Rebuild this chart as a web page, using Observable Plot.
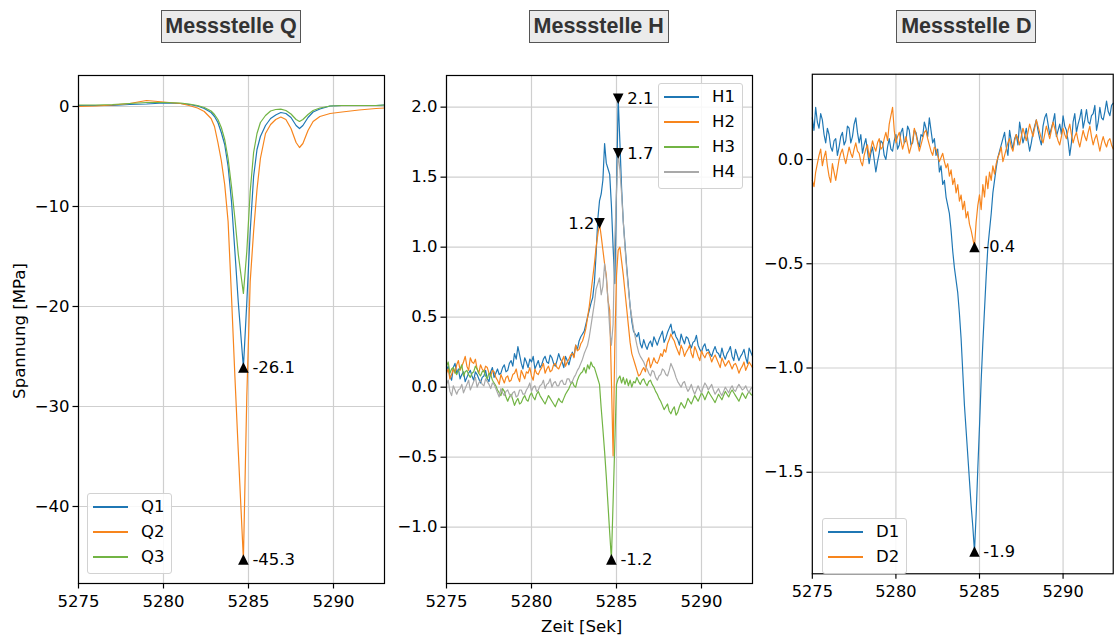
<!DOCTYPE html>
<html><head><meta charset="utf-8">
<script src="https://cdn.jsdelivr.net/npm/d3@7"></script>
<script src="https://cdn.jsdelivr.net/npm/@observablehq/plot@0.6"></script>
<style>
html,body{margin:0;padding:0;background:#fff;overflow:hidden;}
#fig{position:relative;width:1115px;height:635px;overflow:hidden;font-family:"DejaVu Sans";color:#000;}
.panel{position:absolute;top:0;}
.title{position:absolute;top:9.7px;height:33.3px;width:140px;box-sizing:border-box;border:1.2px solid #555;background:#ebebeb;color:#333;font:bold 21.5px "Liberation Sans";display:flex;align-items:center;justify-content:center;transform:translateX(-50%);white-space:nowrap;}
.legend{position:absolute;box-sizing:border-box;border:1.2px solid #d2d2d2;border-radius:3px;background:rgba(255,255,255,0.85);}
.legend .sw{position:absolute;left:5px;width:35px;height:2px;}
.legend .lb{position:absolute;left:53px;height:20px;line-height:20px;font:16.5px "DejaVu Sans";white-space:nowrap;}
.axlabel{position:absolute;font:16.6px "DejaVu Sans";white-space:nowrap;line-height:normal;}
</style>
</head><body><div id="fig"></div>
<script>
// ---------- data ----------
const xTicks = [5275, 5280, 5285, 5290];

// Messstelle Q (smooth signals)
const tQ = [5275,5276,5277,5278,5279,5280,5281,5281.5,5282,5282.4,
  5282.8,5283.0,5283.2,5283.4,5283.6,5283.8,5284.0,5284.2,5284.4,5284.7,
  5284.9,5285.1,5285.3,5285.5,5285.7,5286.0,5286.3,5286.6,5286.9,5287.2,
  5287.5,5287.8,5288.0,5288.2,5288.5,5288.8,5289.2,5289.8,5290.5,5291.5,5292.5,5293];
const Q1 = [0.1,0.1,0.1,0.2,0.25,0.35,0.3,0.2,0.05,-0.2,
  -0.6,-1.0,-1.6,-2.6,-3.8,-6.0,-9.5,-14.5,-19.6,-26.1,
  -19.6,-12.5,-7.0,-4.3,-3.0,-1.9,-1.2,-0.85,-0.6,-0.7,
  -1.1,-1.9,-2.2,-1.9,-1.1,-0.55,-0.25,0.05,0.1,0.1,0.1,0.15];
const Q2 = [0.0,0.05,0.15,0.3,0.6,0.45,0.3,0.1,-0.15,-0.5,
  -1.2,-2.0,-3.6,-5.4,-7.8,-11.5,-19.0,-27.0,-34.5,-45.3,
  -29.0,-17.5,-12.5,-8.3,-5.2,-2.7,-1.8,-1.3,-1.05,-1.3,
  -2.2,-3.6,-4.1,-3.7,-2.4,-1.5,-1.0,-0.7,-0.55,-0.35,-0.2,-0.15];
const Q3 = [0.15,0.15,0.2,0.3,0.4,0.4,0.35,0.25,0.1,-0.1,
  -0.45,-0.8,-1.3,-2.1,-3.3,-5.2,-8.0,-11.2,-14.8,-18.7,
  -14.5,-8.5,-4.6,-2.7,-1.6,-0.9,-0.45,-0.3,-0.27,-0.4,
  -0.75,-1.3,-1.5,-1.3,-0.8,-0.4,-0.15,0.05,0.1,0.1,0.1,0.15];

// sampling times of the noisy signals (Messstelle H and D), 0.1 s
const tN = [
  5275,5275.1,5275.2,5275.3,5275.4,5275.5,5275.6,5275.7,5275.8,5275.9,
  5276,5276.1,5276.2,5276.3,5276.4,5276.5,5276.6,5276.7,5276.8,5276.9,
  5277,5277.1,5277.2,5277.3,5277.4,5277.5,5277.6,5277.7,5277.8,5277.9,
  5278,5278.1,5278.2,5278.3,5278.4,5278.5,5278.6,5278.7,5278.8,5278.9,
  5279,5279.1,5279.2,5279.3,5279.4,5279.5,5279.6,5279.7,5279.8,5279.9,
  5280,5280.1,5280.2,5280.3,5280.4,5280.5,5280.6,5280.7,5280.8,5280.9,
  5281,5281.1,5281.2,5281.3,5281.4,5281.5,5281.6,5281.7,5281.8,5281.9,
  5282,5282.1,5282.2,5282.3,5282.4,5282.5,5282.6,5282.7,5282.8,5282.9,
  5283,5283.1,5283.2,5283.3,5283.4,5283.5,5283.6,5283.7,5283.8,5283.9,
  5284,5284.1,5284.2,5284.3,5284.4,5284.5,5284.6,5284.7,5284.8,5284.9,
  5285,5285.1,5285.2,5285.3,5285.4,5285.5,5285.6,5285.7,5285.8,5285.9,
  5286,5286.1,5286.2,5286.3,5286.4,5286.5,5286.6,5286.7,5286.8,5286.9,
  5287,5287.1,5287.2,5287.3,5287.4,5287.5,5287.6,5287.7,5287.8,5287.9,
  5288,5288.1,5288.2,5288.3,5288.4,5288.5,5288.6,5288.7,5288.8,5288.9,
  5289,5289.1,5289.2,5289.3,5289.4,5289.5,5289.6,5289.7,5289.8,5289.9,
  5290,5290.1,5290.2,5290.3,5290.4,5290.5,5290.6,5290.7,5290.8,5290.9,
  5291,5291.1,5291.2,5291.3,5291.4,5291.5,5291.6,5291.7,5291.8,5291.9,
  5292,5292.1,5292.2,5292.3,5292.4,5292.5,5292.6,5292.7,5292.8,5292.9,
  5293];

const H1 = [
  0.12,0.15,0.08,0.05,0.14,0.17,0.10,0.13,0.06,0.09,
  0.11,0.04,0.07,0.10,0.12,0.08,0.05,0.11,0.09,0.06,
  0.03,0.07,0.08,0.12,0.06,0.04,0.11,0.14,0.07,0.10,
  0.13,0.09,0.10,0.14,0.16,0.11,0.12,0.17,0.19,0.15,
  0.24,0.20,0.29,0.23,0.17,0.13,0.21,0.18,0.14,0.20,
  0.18,0.22,0.13,0.16,0.19,0.14,0.16,0.20,0.22,0.18,
  0.17,0.23,0.21,0.17,0.15,0.19,0.24,0.20,0.18,0.14,
  0.22,0.19,0.16,0.21,0.25,0.22,0.30,0.27,0.33,0.36,
  0.38,
  0.40,0.45,0.50,0.55,0.60,0.64,0.75,0.95,1.20,1.33,
  1.38,1.48,1.74,1.60,1.56,1.52,1.30,1.00,0.74,1.40,
  2.06,1.75,1.42,1.18,1.02,0.86,0.72,0.58,0.47,0.40,
  0.38,0.36,0.39,0.31,0.28,0.34,0.30,0.27,0.31,0.33,
  0.29,0.36,0.33,0.30,0.34,0.37,0.40,0.32,0.35,0.39,
  0.42,0.45,0.38,0.40,0.36,0.34,0.30,0.38,0.34,0.31,
  0.36,0.35,0.31,0.28,0.32,0.33,0.37,0.30,0.27,0.25,
  0.29,0.31,0.26,0.27,0.24,0.22,0.26,0.29,0.25,0.24,
  0.21,0.28,0.23,0.20,0.24,0.26,0.29,0.22,0.19,0.27,
  0.23,0.19,0.22,0.24,0.27,0.21,0.17,0.28,0.25,0.22];
const H2 = [
  0.10,0.13,0.06,0.09,0.13,0.10,0.16,0.19,0.12,0.15,
  0.18,0.22,0.15,0.12,0.21,0.18,0.17,0.20,0.13,0.10,
  0.16,0.13,0.11,0.15,0.14,0.10,0.08,0.12,0.11,0.07,
  0.05,0.02,0.09,0.06,0.03,0.07,0.08,0.04,0.05,0.09,
  0.10,0.13,0.07,0.04,0.12,0.09,0.06,0.11,0.10,0.14,
  0.08,0.05,0.13,0.10,0.09,0.12,0.14,0.17,0.10,0.13,
  0.15,0.11,0.12,0.16,0.17,0.14,0.13,0.16,0.19,0.22,
  0.15,0.18,0.20,0.23,0.24,0.21,0.30,0.26,0.27,0.31,
  0.33,
  0.37,0.42,0.50,0.58,0.68,0.78,0.88,1.00,1.09,1.17,
  1.08,0.98,0.88,0.80,0.62,0.55,0.05,-0.49,0.30,0.80,
  0.98,1.00,0.90,0.80,0.68,0.56,0.44,0.32,0.24,0.20,
  0.16,0.12,0.08,0.09,0.12,0.14,0.11,0.18,0.21,0.14,
  0.17,0.21,0.18,0.17,0.20,0.24,0.22,0.27,0.25,0.31,
  0.34,0.38,0.35,0.33,0.29,0.26,0.23,0.30,0.27,0.22,
  0.25,0.27,0.30,0.24,0.21,0.29,0.26,0.22,0.19,0.26,
  0.23,0.21,0.24,0.25,0.22,0.18,0.21,0.23,0.20,0.17,
  0.14,0.21,0.18,0.15,0.17,0.19,0.16,0.13,0.16,0.17,
  0.14,0.10,0.13,0.15,0.18,0.12,0.15,0.18,0.16,0.14];
const H3 = [
  0.15,0.18,0.10,0.13,0.14,0.11,0.09,0.12,0.13,0.16,
  0.08,0.11,0.12,0.09,0.07,0.10,0.11,0.15,0.13,0.10,
  0.08,0.11,0.12,0.08,0.06,0.10,0.09,0.05,0.03,0.01,
  -0.02,-0.04,-0.06,-0.01,-0.03,-0.07,-0.10,-0.07,-0.05,-0.09,
  -0.13,-0.10,-0.08,-0.12,-0.11,-0.08,-0.06,-0.09,-0.10,-0.06,
  -0.04,-0.07,-0.09,-0.05,-0.03,-0.06,-0.08,-0.10,-0.12,-0.09,
  -0.06,-0.08,-0.10,-0.12,-0.14,-0.11,-0.08,-0.10,-0.11,-0.08,
  -0.05,-0.03,-0.01,0.02,0.04,0.01,0.00,0.05,0.08,0.10,
  0.11,
  0.14,0.10,0.16,0.13,0.18,0.15,0.14,0.10,0.06,0.02,
  -0.15,-0.30,-0.46,-0.64,-0.84,-1.04,-1.23,-0.82,-0.40,0.02,
  0.06,0.08,0.03,0.07,0.02,0.06,0.01,0.05,0.00,0.04,
  0.03,0.07,0.04,0.02,0.05,0.06,0.03,0.01,0.04,0.05,
  0.02,0.00,-0.03,-0.05,-0.08,-0.10,-0.13,-0.16,-0.14,-0.12,
  -0.17,-0.19,-0.16,-0.14,-0.20,-0.18,-0.14,-0.11,-0.13,-0.15,
  -0.12,-0.08,-0.10,-0.12,-0.09,-0.06,-0.08,-0.10,-0.07,-0.04,
  -0.06,-0.09,-0.06,-0.03,-0.05,-0.07,-0.09,-0.11,-0.08,-0.05,
  -0.07,-0.09,-0.06,-0.03,-0.05,-0.07,-0.04,-0.02,-0.04,-0.06,
  -0.08,-0.10,-0.07,-0.04,-0.06,-0.08,-0.05,-0.03,-0.05,-0.06];
const H4 = [
  0.02,0.05,-0.03,-0.06,0.01,-0.02,-0.05,-0.02,-0.01,0.02,
  -0.04,-0.01,0.02,0.05,-0.02,0.01,0.04,0.07,0.00,0.03,
  0.05,0.02,0.01,0.06,0.04,0.02,-0.01,0.03,0.02,-0.01,
  -0.04,-0.07,-0.01,-0.04,-0.06,-0.03,-0.02,-0.05,-0.07,-0.04,
  -0.03,-0.07,-0.06,-0.02,-0.02,-0.05,-0.05,-0.02,0.00,0.03,
  -0.03,0.00,0.01,-0.03,-0.02,0.01,0.02,0.05,-0.01,0.02,
  0.03,0.06,0.00,0.03,0.04,0.01,0.01,0.04,0.05,0.02,
  0.02,0.06,0.06,0.03,0.04,0.07,0.09,0.12,0.14,0.17,
  0.20,
  0.24,0.27,0.30,0.36,0.44,0.52,0.60,0.70,0.74,0.78,
  0.66,0.72,0.88,0.78,0.62,0.42,0.30,0.45,1.05,1.40,
  1.67,1.55,1.38,1.18,1.00,0.84,0.70,0.58,0.50,0.42,
  0.36,0.30,0.25,0.22,0.20,0.18,0.15,0.13,0.10,0.08,
  0.12,0.11,0.07,0.05,0.08,0.09,0.13,0.12,0.09,0.08,
  0.12,0.17,0.14,0.11,0.07,0.04,0.02,0.00,0.03,0.04,
  0.00,-0.03,-0.01,0.02,-0.02,-0.05,-0.02,0.01,-0.02,-0.04,
  0.00,0.03,0.01,-0.02,0.00,0.02,-0.02,-0.05,-0.03,-0.01,
  -0.04,-0.06,-0.03,0.00,-0.02,-0.04,-0.01,0.01,-0.02,-0.03,
  0.00,0.02,0.00,-0.02,-0.01,0.01,-0.02,-0.04,-0.01,0.00];

const D1 = [
  0.20,0.14,0.25,0.18,0.15,0.22,0.19,0.12,0.08,0.15,
  0.12,0.06,0.04,0.09,0.10,0.02,0.06,0.11,0.13,0.07,
  0.09,0.16,0.15,0.08,0.11,0.17,0.20,0.13,0.08,0.12,
  0.03,0.07,0.10,0.04,-0.02,0.03,0.06,0.00,-0.06,-0.01,
  0.03,0.09,0.08,0.02,0.00,0.06,0.10,0.05,0.04,0.09,
  0.12,0.05,0.07,0.13,0.15,0.08,0.09,0.16,0.14,0.07,
  0.08,0.14,0.13,0.09,0.06,0.12,0.11,0.18,0.15,0.11,
  0.20,0.14,0.08,0.10,0.02,0.05,-0.06,-0.03,-0.12,-0.10,
  -0.18,
  -0.22,-0.26,-0.34,-0.44,-0.52,-0.58,-0.64,-0.74,-0.86,-1.02,
  -1.18,-1.30,-1.42,-1.54,-1.66,-1.76,-1.88,-1.70,-1.48,-1.28,
  -1.06,-0.88,-0.72,-0.56,-0.42,-0.34,-0.26,-0.16,-0.10,-0.04,
  0.01,0.04,0.07,0.10,0.13,0.06,0.02,0.14,0.09,0.05,
  0.10,0.12,0.07,0.18,0.13,0.08,0.11,0.15,0.09,0.04,
  0.08,0.13,0.16,0.19,0.14,0.10,0.07,0.16,0.20,0.22,
  0.17,0.12,0.15,0.18,0.22,0.11,0.14,0.17,0.12,0.21,
  0.16,0.14,0.09,0.02,0.08,0.18,0.22,0.13,0.17,0.20,
  0.24,0.15,0.19,0.24,0.18,0.17,0.21,0.22,0.26,0.14,
  0.18,0.25,0.20,0.19,0.23,0.28,0.23,0.21,0.26,0.27];
const D2 = [
  -0.10,-0.13,-0.06,-0.02,0.02,0.05,-0.03,0.01,0.04,-0.03,
  -0.08,-0.11,-0.02,-0.06,-0.10,-0.05,0.00,0.03,0.05,0.01,
  -0.02,0.02,0.06,0.03,0.01,0.05,0.08,0.04,0.03,-0.01,
  -0.03,0.02,0.05,0.07,0.01,0.05,0.09,0.06,0.04,0.08,
  0.10,0.05,0.06,0.10,0.13,0.09,0.17,0.21,0.25,0.14,
  0.08,0.11,0.13,0.09,0.05,0.08,0.11,0.07,0.03,0.06,
  0.09,0.15,0.12,0.08,0.04,0.07,0.10,0.13,0.14,0.10,
  0.07,0.04,0.02,0.06,0.05,0.02,-0.01,0.01,0.03,-0.01,
  -0.04,
  -0.02,-0.08,-0.05,-0.12,-0.09,-0.16,-0.12,-0.20,-0.17,-0.24,
  -0.20,-0.28,-0.25,-0.31,-0.34,-0.38,-0.42,-0.30,-0.22,-0.17,
  -0.24,-0.12,-0.18,-0.08,-0.14,-0.06,-0.10,-0.03,-0.07,-0.02,
  0.01,0.03,0.06,-0.01,0.02,0.05,0.08,0.10,0.06,0.04,
  0.09,0.12,0.10,0.07,0.11,0.15,0.12,0.09,0.13,0.17,
  0.14,0.11,0.15,0.19,0.16,0.13,0.10,0.08,0.12,0.16,
  0.13,0.10,0.14,0.18,0.15,0.12,0.09,0.07,0.11,0.15,
  0.12,0.10,0.14,0.17,0.12,0.08,0.11,0.13,0.09,0.06,
  0.10,0.14,0.11,0.09,0.13,0.16,0.11,0.07,0.10,0.12,
  0.08,0.04,0.08,0.11,0.08,0.06,0.09,0.10,0.07,0.05];

const titles = ["Messstelle Q", "Messstelle H", "Messstelle D"];
const namesQ = ["Q1", "Q2", "Q3"];
const namesH = ["H1", "H2", "H3", "H4"];
const namesD = ["D1", "D2"];
const yTicksQ = [0, -10, -20, -30, -40];
const yTicksH = [-1.0, -0.5, 0.0, 0.5, 1.0, 1.5, 2.0];
const yTicksD = [-1.5, -1.0, -0.5, 0.0];
// which extremum is annotated for each series (series not listed get no marker)
const peakKind = {Q1: "min", Q2: "min", H1: "max", H2: "max", H3: "min", H4: "max", D1: "min", D2: "min"};

// ---------- styling / layout ----------
const colors = ["#1f77b4", "#f7851d", "#72b444", "#a9a9a9"];
const frameW = 306, frameH = 508, mTop = 75, mBottom = 52, mLeft = 70, mRight = 2;
const labelLeft = new Set(["H2"]);

const triUp = {draw(ctx, size) { const r = Math.sqrt(size / Math.PI); ctx.moveTo(0, -r); ctx.lineTo(r, r); ctx.lineTo(-r, r); ctx.closePath(); }};
const triDown = {draw(ctx, size) { const r = Math.sqrt(size / Math.PI); ctx.moveTo(0, r); ctx.lineTo(r, -r); ctx.lineTo(-r, -r); ctx.closePath(); }};

const fig = document.getElementById("fig");

function makePanel(cfg) {
  const {t, series, names, yDomain, yTicks, yFormat, frameLeft, title, legend} = cfg;
  const lines = series.map((vals, k) =>
    Plot.line(t.map((tt, i) => ({t: tt, v: vals[i]})), {x: "t", y: "v", stroke: colors[k], strokeWidth: 1.2, strokeLinejoin: "round"}));
  const peaks = names.filter(n => peakKind[n]).map(n => {
    const vals = series[names.indexOf(n)];
    const i = peakKind[n] === "min" ? d3.minIndex(vals) : d3.maxIndex(vals);
    return {name: n, kind: peakKind[n], t: t[i], v: vals[i]};
  });
  const ups = peaks.filter(p => p.kind === "min");
  const downs = peaks.filter(p => p.kind === "max");
  const right = peaks.filter(p => !labelLeft.has(p.name));
  const left = peaks.filter(p => labelLeft.has(p.name));
  const svg = Plot.plot({
    width: mLeft + frameW + mRight,
    height: mTop + frameH + mBottom,
    marginTop: mTop, marginBottom: mBottom, marginLeft: mLeft, marginRight: mRight,
    x: {domain: [5275, 5293]},
    y: {domain: yDomain},
    style: {background: "transparent", fontFamily: "DejaVu Sans", fontSize: "16.5px", color: "black", overflow: "visible"},
    marks: [
      Plot.gridX({ticks: xTicks, stroke: "#cfcfcf", strokeOpacity: 1, strokeWidth: 1.2}),
      Plot.gridY({ticks: yTicks, stroke: "#cfcfcf", strokeOpacity: 1, strokeWidth: 1.2}),
      ...lines,
      Plot.axisX({ticks: xTicks, tickFormat: d3.format("d"), tickSize: 5.5, tickPadding: 6.5, strokeWidth: 1.2, label: null}),
      Plot.axisY({ticks: yTicks, tickFormat: yFormat, tickSize: 5.5, tickPadding: 3.5, strokeWidth: 1.2, label: null}),
      Plot.frame({stroke: "black", strokeWidth: 1.2}),
      Plot.dot(ups, {x: "t", y: "v", symbol: triUp, r: 5.3, fill: "black", stroke: "none"}),
      Plot.dot(downs, {x: "t", y: "v", symbol: triDown, r: 5.3, fill: "black", stroke: "none"}),
      Plot.text(right, {x: "t", y: "v", text: d => d.v.toFixed(1), dx: 9, textAnchor: "start", lineAnchor: "middle", fill: "black", fontSize: 16.5}),
      Plot.text(left, {x: "t", y: "v", text: d => d.v.toFixed(1), dx: -5, textAnchor: "end", lineAnchor: "middle", fill: "black", fontSize: 16.5})
    ]
  });
  const wrap = document.createElement("div");
  wrap.className = "panel";
  wrap.style.left = (frameLeft - mLeft) + "px";
  wrap.appendChild(svg);
  fig.appendChild(wrap);

  const tt = document.createElement("div");
  tt.className = "title";
  tt.style.left = (frameLeft + frameW / 2) + "px";
  tt.textContent = title;
  fig.appendChild(tt);

  const lg = document.createElement("div");
  lg.className = "legend";
  lg.style.left = legend.left + "px";
  lg.style.top = legend.top + "px";
  lg.style.width = "85px";
  lg.style.height = Math.round(14.5 + 25 * (names.length - 1) + 16.7) + "px";
  names.forEach((n, k) => {
    const cy = 13 + 25 * k;
    const sw = document.createElement("div");
    sw.className = "sw";
    sw.style.top = (cy - 1) + "px";
    sw.style.background = colors[k];
    const lb = document.createElement("div");
    lb.className = "lb";
    lb.style.top = (cy - 10) + "px";
    lb.textContent = n;
    lg.appendChild(sw); lg.appendChild(lb);
  });
  fig.appendChild(lg);
}

makePanel({t: tQ, series: [Q1, Q2, Q3], names: namesQ, yDomain: [-47.7, 3.1], yTicks: yTicksQ, yFormat: d3.format("d"),
  frameLeft: 78, title: titles[0], legend: {left: 87, top: 493}});
makePanel({t: tN, series: [H1, H2, H3, H4], names: namesH, yDomain: [-1.402, 2.226], yTicks: yTicksH, yFormat: d3.format(".1f"),
  frameLeft: 445.7, title: titles[1], legend: {left: 658, top: 83}});
makePanel({t: tN, series: [D1, D2], names: namesD, yDomain: [-1.987, 0.409], yTicks: yTicksD, yFormat: d3.format(".1f"),
  frameLeft: 813.3, title: titles[2], legend: {left: 822, top: 518}});

const yl = document.createElement("div");
yl.className = "axlabel";
yl.textContent = "Spannung [MPa]";
yl.style.left = "18.8px"; yl.style.top = "331px";
yl.style.transform = "translate(-50%,-50%) rotate(-90deg)";
fig.appendChild(yl);

const xl = document.createElement("div");
xl.className = "axlabel";
xl.textContent = "Zeit [Sek]";
xl.style.left = "581.7px"; xl.style.top = "616.6px";
xl.style.transform = "translateX(-50%)";
fig.appendChild(xl);
</script>
</body></html>
